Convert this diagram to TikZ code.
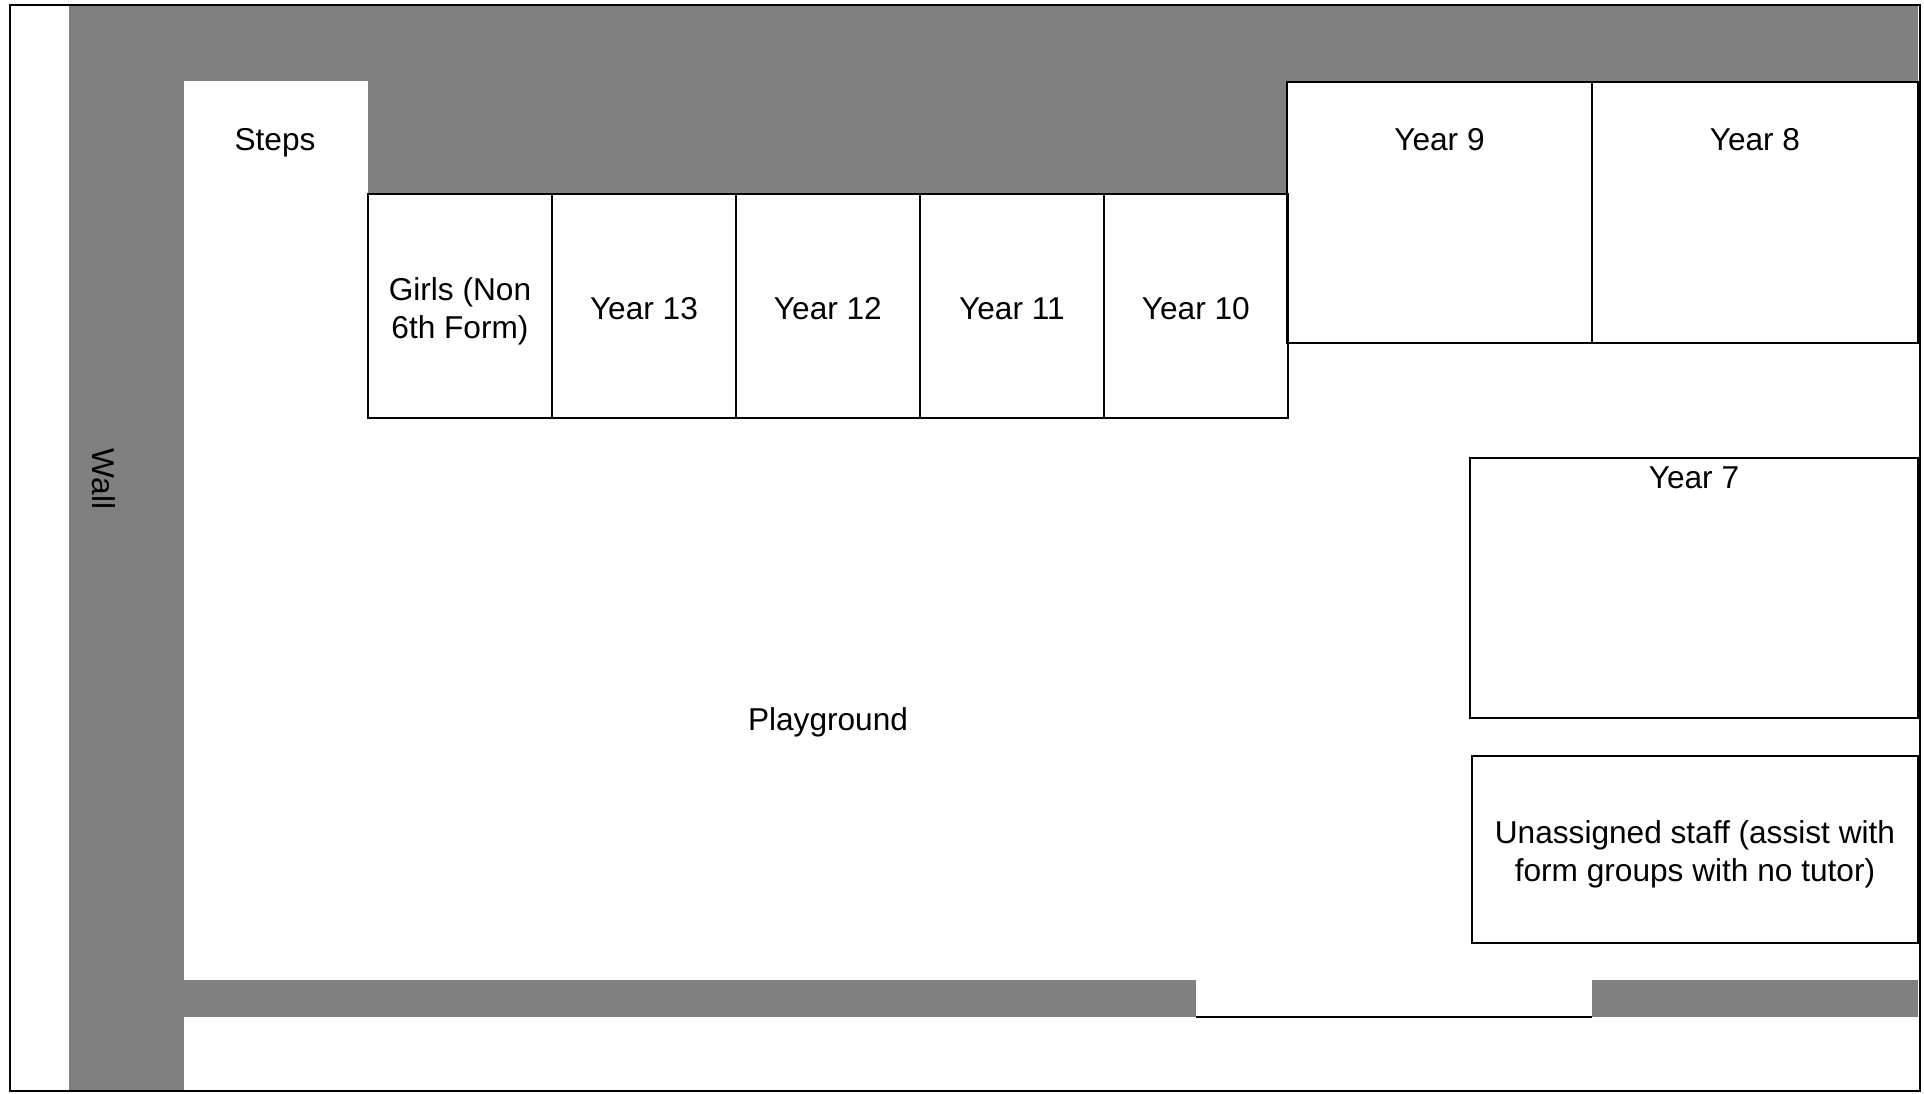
\documentclass[tikz,border=0pt]{standalone}
\usepackage{fontspec}
\setmainfont{Liberation Sans}
\usetikzlibrary{positioning}

\begin{document}
\begin{tikzpicture}[x=0.02cm, y=-0.02cm]
    \tikzset{
        node distance=0pt, % the areas touch each other
        wall/.style={fill=gray, draw=none}, % grey walls round the playground
        area/.style={draw, line width=1.1pt, outer sep=0pt, inner sep=0pt},
        row area/.style={area, minimum width=3.68cm, minimum height=4.48cm},
        area text/.style={inner sep=0pt, align=center, font=\fontsize{18}{21.5}\selectfont},
        }
    \useasboundingbox (0,0) rectangle (1924,1093);

    % walls
    \path[wall] (69,5) rectangle (184,1091);
    \path[wall] (69,5) rectangle (1918,81);
    \path[wall] (368,81) rectangle (1287,194);
    \path[wall] (184,980) rectangle (1196,1017);
    \path[wall] (1592,980) rectangle (1918,1017);

    % row of areas under the steps
    \node[row area, anchor=north west, label={[area text, yshift=-0.11cm]center:{Girls (Non\\6th Form)}}] (girls_box) at (368,194) {};
    \node[row area, right=of girls_box, label={[area text, yshift=-0.05cm]center:Year 13}] (year_13_box) {};
    \node[row area, right=of year_13_box, label={[area text, yshift=-0.05cm]center:Year 12}] (year_12_box) {};
    \node[row area, right=of year_12_box, label={[area text, yshift=-0.05cm]center:Year 11}] (year_11_box) {};
    \node[row area, right=of year_11_box, label={[area text, yshift=-0.05cm]center:Year 10}] (year_10_box) {};

    % areas on the right
    \node[area, anchor=north west, minimum width=6.1cm, minimum height=5.22cm] (year_9_box) at (1287,82) {};
    \node[area, right=of year_9_box, minimum width=6.52cm, minimum height=5.22cm] (year_8_box) {};
    \node[area text, below=0.92cm of year_9_box.north] (year_9_label) {Year 9};
    \node[area text, below=0.92cm of year_8_box.north] (year_8_label) {Year 8};
    \node[area, anchor=north west, minimum width=8.96cm, minimum height=5.2cm] (year_7_box) at (1470,458) {};
    \node[area text, below=0.16cm of year_7_box.north] (year_7_label) {Year 7};
    \node[area, anchor=north west, minimum width=8.92cm, minimum height=3.74cm,
          label={[area text, yshift=-0.1cm]center:{Unassigned staff (assist with\\form groups with no tutor)}}] (staff_box) at (1472,756) {};

    % other labels
    \node[area text] (steps_label) at (275,143) {Steps};
    \node[area text] (playground_label) at (828,722) {Playground};
    \node[area text, rotate=-90] (wall_label) at (104,479) {Wall};

    % gate in the bottom wall
    \coordinate (gate_left) at (1196,1017);
    \coordinate (gate_right) at (1592,1017);
    \draw[line width=1.1pt] (gate_left) -- (gate_right);

    % outer frame
    \draw[line width=1.4pt] (10,5) rectangle (1920,1091);
\end{tikzpicture}
\end{document}
